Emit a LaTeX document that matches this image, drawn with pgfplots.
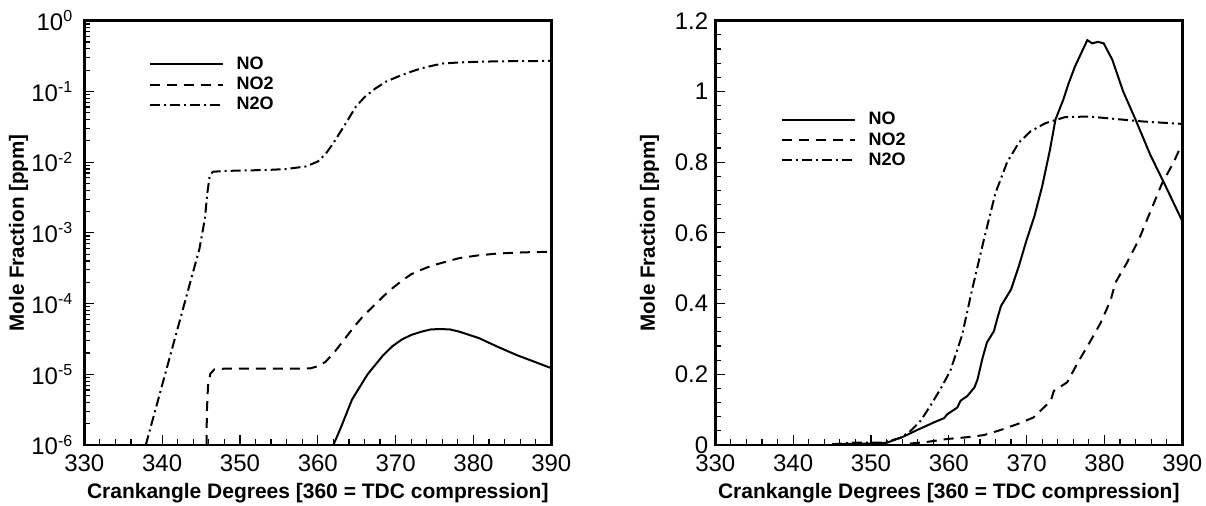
\documentclass[border=0pt]{standalone}
\usepackage{fontspec}
\setmainfont{Liberation Sans}
\usepackage{pgfplots}
\pgfplotsset{compat=1.18}

\pgfplotsset{
  crank/.style={
    scale only axis, width=233.5pt, height=212.15pt,
    anchor=south west,
    xmin=330, xmax=390, xtick={330,340,...,390}, minor x tick num=4,
    tick pos=left, tick align=inside,
    axis line style={line width=1.3pt},
    tick style={black, line width=0.6pt},
    major tick length=5pt, minor tick length=3pt,
    xticklabel style={font=\fontsize{12}{14}\selectfont, yshift=-1.4pt},
    yticklabel style={font=\fontsize{12}{14}\selectfont},
    /pgf/number format/assume math mode=true,
    xlabel={Crankangle Degrees [360 = TDC compression]},
    ylabel={Mole Fraction [ppm]},
    xlabel style={font=\fontsize{10.5}{12}\selectfont\bfseries,
      at={(axis description cs:0.5,-0.113)}, anchor=center},
    ylabel style={font=\fontsize{10.3}{12}\selectfont\bfseries,
      at={(axis description cs:-0.141,0.5)}, anchor=center},
    legend style={draw=none, fill=none, inner sep=0pt,
      font=\fontsize{9}{10}\selectfont\bfseries,
      nodes={inner sep=0pt, text height=6.5pt, text depth=0pt},
      row sep=3.6pt, column sep=6.5pt},
    legend cell align=left,
    legend image code/.code={\draw[##1] (0pt,-0.8pt) -- (36.5pt,-0.8pt);},
  },
  no/.style={black, line width=1pt},
  notwo/.style={black, line width=1pt, dash pattern=on 5pt off 3.5pt},
  ntwoo/.style={black, line width=1pt, dash pattern=on 5pt off 2pt on 1pt off 2pt},
}

\begin{document}
\begin{tikzpicture}
\useasboundingbox (0,0) rectangle (603pt,253pt);

% left: log scale
\begin{axis}[crank, at={(42.15pt,30.5pt)},
  ymode=log, ymin=1e-6, ymax=1,
  ytick={1e-6,1e-5,1e-4,1e-3,1e-2,1e-1,1},
  yticklabels={10\textsuperscript{-6},10\textsuperscript{-5},10\textsuperscript{-4},10\textsuperscript{-3},10\textsuperscript{-2},10\textsuperscript{-1},10\textsuperscript{0}},
  minor ytick={2e-6,3e-6,4e-6,5e-6,6e-6,7e-6,8e-6,9e-6,
    2e-5,3e-5,4e-5,5e-5,6e-5,7e-5,8e-5,9e-5,
    2e-4,3e-4,4e-4,5e-4,6e-4,7e-4,8e-4,9e-4,
    2e-3,3e-3,4e-3,5e-3,6e-3,7e-3,8e-3,9e-3,
    2e-2,3e-2,4e-2,5e-2,6e-2,7e-2,8e-2,9e-2,
    0.2,0.3,0.4,0.5,0.6,0.7,0.8,0.9},
  yticklabel style={xshift=-2pt},
  legend style={at={(axis description cs:0.137,0.917)}, anchor=north west},
]
\addplot[no] coordinates {
 (362.0,1e-6) (363,1.8e-6) (364.4,4.4e-6) (366.4,1e-5) (368.4,1.86e-5)
 (369.6,2.5e-5) (370.8,3.1e-5) (372,3.6e-5) (373.3,4.0e-5) (374.5,4.3e-5)
 (375.7,4.37e-5) (377,4.3e-5) (378.2,4.0e-5) (380.7,3.25e-5) (383.1,2.45e-5)
 (385.6,1.86e-5) (388,1.48e-5) (390,1.22e-5)};
\addlegendentry{NO}
\addplot[notwo] coordinates {
 (345.7,1e-6) (345.75,3e-6) (345.9,7e-6) (346.2,1.02e-5) (346.7,1.17e-5)
 (348,1.2e-5) (352,1.2e-5) (356,1.2e-5) (359,1.21e-5) (360,1.3e-5)
 (361,1.5e-5) (362.2,2.1e-5) (363.4,3.1e-5) (364.6,4.6e-5) (365.8,6.6e-5)
 (367.1,9.1e-5) (368.4,1.26e-4) (369.6,1.65e-4) (370.8,2.1e-4) (372,2.6e-4)
 (373.3,3.0e-4) (374.5,3.4e-4) (375.7,3.7e-4) (378.2,4.4e-4) (380.6,4.8e-4)
 (383.1,5.1e-4) (386.5,5.3e-4) (390,5.4e-4)};
\addlegendentry{NO2}
\addplot[ntwoo] coordinates {
 (337.9,1e-6) (344.8,6e-4) (345.5,1.6e-3) (345.8,3.6e-3) (346.1,6.3e-3)
 (346.5,7.3e-3) (348,7.5e-3) (350,7.6e-3) (353.6,7.75e-3) (356,8.0e-3)
 (358.5,8.7e-3) (360,1.02e-2) (361,1.3e-2) (362,1.86e-2) (363.5,3.4e-2)
 (364.9,6.1e-2) (366,8.3e-2) (367.4,0.11) (368.8,0.138) (370.3,0.162)
 (371.8,0.187) (373.3,0.212) (374.8,0.232) (376.2,0.249) (378.5,0.258)
 (380.7,0.263) (383,0.266) (386,0.268) (390,0.27)};
\addlegendentry{N2O}
\end{axis}

% right: linear scale
\begin{axis}[crank, at={(357.65pt,30.5pt)},
  ymin=0, ymax=1.2, ytick={0,0.2,...,1.2}, minor y tick num=4,
  legend style={at={(axis description cs:0.139,0.786)}, anchor=north west},
]
\addplot[no] coordinates {
 (345,0.002) (350,0.004) (352,0.006) (354.2,0.024) (355.9,0.042)
 (358.1,0.064) (359.4,0.076) (359.8,0.087) (361.1,0.106) (361.5,0.125)
 (362.4,0.139) (363.3,0.163) (363.7,0.186) (364.3,0.243) (364.9,0.29)
 (365.8,0.322) (366.2,0.355) (366.7,0.393) (368.0,0.44) (369.0,0.506)
 (370.0,0.58) (371.0,0.647) (372.0,0.732) (373.0,0.835) (373.7,0.92)
 (374.7,0.976) (375.4,1.023) (376.2,1.07) (377.2,1.117) (377.8,1.145)
 (378.4,1.136) (379.2,1.14) (379.9,1.136) (381,1.09) (382.4,1.0)
 (383.9,0.925) (385.9,0.82) (387.9,0.73) (390,0.633)};
\addlegendentry{NO}
\addplot[notwo] coordinates {
 (355,0.004) (357,0.008) (359.8,0.017) (362.4,0.022) (364.5,0.028)
 (366.6,0.042) (368.8,0.059) (370.9,0.078) (373.1,0.125) (373.5,0.153)
 (375.2,0.177) (376.5,0.23) (378.2,0.294) (379.5,0.345) (380.8,0.41)
 (381.4,0.459) (382.9,0.516) (384.4,0.58) (385.9,0.66) (387.4,0.74)
 (388.9,0.8) (390,0.854)};
\addlegendentry{NO2}
\addplot[ntwoo] coordinates {
 (345,0.002) (347.9,0.007) (351.5,0.007) (353.8,0.02) (355.1,0.04)
 (356.4,0.069) (357.6,0.11) (358.9,0.157) (360.2,0.21) (361.7,0.31)
 (363.0,0.44) (364.5,0.58) (366.0,0.713) (367.5,0.8) (369.0,0.855)
 (370.5,0.887) (372.4,0.91) (374.9,0.927) (377.9,0.929) (379.9,0.925)
 (384.9,0.915) (390,0.908)};
\addlegendentry{N2O}
\end{axis}
\end{tikzpicture}
\end{document}
